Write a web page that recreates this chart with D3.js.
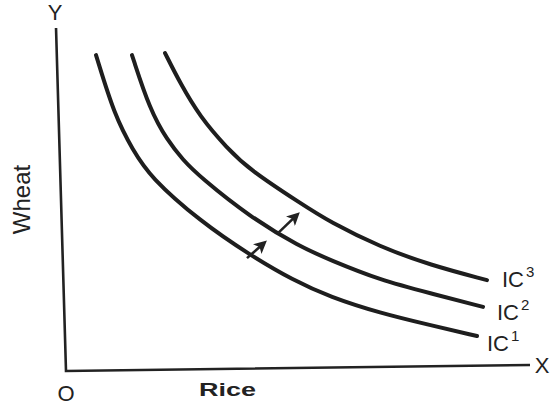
<!DOCTYPE html>
<html>
<head>
<meta charset="utf-8">
<script src="https://cdn.jsdelivr.net/npm/d3@7"></script>
<style>
  body { margin: 0; background: #fff; }
  text { font-family: "Liberation Sans", Arial, sans-serif; fill: #222; }
</style>
</head>
<body>
<svg id="chart" width="551" height="408"></svg>
<script>
// indifference curves (rice on x, wheat on y, 0-100 units)
var ic1 = [[6.47, 92.1], [10.56, 74.1], [14.44, 64.4], [18.10, 56.6], [28.88, 43.7], [39.66, 33.8], [48.92, 26.5], [56.90, 21.6], [67.67, 16.9], [78.45, 13.4], [88.58, 10.2]];
var ic2 = [[14.22, 92.1], [18.10, 76.1], [21.77, 67.4], [25.22, 61.5], [28.88, 56.6], [39.66, 44.9], [50.43, 36.2], [56.90, 32.4], [67.67, 26.5], [78.45, 22.7], [89.87, 18.7]];
var ic3 = [[21.34, 92.7], [24.57, 84.0], [28.88, 74.1], [34.70, 65.0], [39.66, 58.6], [50.43, 49.0], [56.90, 43.4], [67.67, 36.2], [78.45, 30.9], [90.73, 26.5]];
var curveNames = ["1", "2", "3"];

// arrows showing the move to higher curves
var arrows = [
    [[39.01, 32.9], [42.67, 37.3]],
    [[45.69, 40.2], [49.78, 45.5]]
];

var xLabel = "Rice";
var yLabel = "Wheat";

var svg = d3.select("#chart");

var x = d3.scaleLinear().domain([0, 100]).range([66, 530]);
var y = d3.scaleLinear().domain([0, 100]).range([371, 28]);

svg.append("defs").append("marker")
    .attr("id", "head")
    .attr("viewBox", "0 0 10 10")
    .attr("refX", 7)
    .attr("refY", 5)
    .attr("markerWidth", 5)
    .attr("markerHeight", 5)
    .attr("markerUnits", "strokeWidth")
    .attr("orient", "auto")
    .append("path")
    .attr("d", "M0,0 L10,5 L0,10 L2.5,5 Z")
    .style("fill", "#222");

// axes (the scan is a little tilted, so the y axis leans a bit)
var line = d3.line().x(function (d) { return x(d[0]); }).y(function (d) { return y(d[1]); });

svg.append("path")
    .attr("d", line([[-2.15, 100], [0, 0], [100, 1.75]]))
    .style("fill", "none")
    .style("stroke", "#222")
    .style("stroke-width", 2.6);

// curves
var curve = d3.line()
    .x(function (d) { return x(d[0]); })
    .y(function (d) { return y(d[1]); })
    .curve(d3.curveBasis);

var curves = [ic1, ic2, ic3];

svg.selectAll(".ic")
    .data(curves)
    .enter().append("path")
    .attr("class", "ic")
    .attr("d", curve)
    .style("fill", "none")
    .style("stroke", "#1e1e1e")
    .style("stroke-width", 4)
    .style("stroke-linecap", "round");

svg.selectAll(".arrow")
    .data(arrows)
    .enter().append("path")
    .attr("class", "arrow")
    .attr("d", line)
    .style("stroke", "#222")
    .style("stroke-width", 2.6)
    .attr("marker-end", "url(#head)");

// curve labels at the right end of each curve, nudged like the original
var nudgeX = [10, 14, 15];
var nudgeY = [15, 13, 7];

var labels = svg.selectAll(".iclabel")
    .data(curves)
    .enter().append("text")
    .attr("class", "iclabel")
    .attr("x", function (d, i) { return x(d[d.length - 1][0]) + nudgeX[i]; })
    .attr("y", function (d, i) { return y(d[d.length - 1][1]) + nudgeY[i]; })
    .style("font-size", "22px");

labels.append("tspan").text("IC");
labels.append("tspan")
    .attr("dx", 2)
    .attr("dy", -10)
    .style("font-size", "15px")
    .text(function (d, i) { return curveNames[i]; });

// axis letters
svg.append("text").attr("x", 55).attr("y", 20).attr("text-anchor", "middle").style("font-size", "22px").text("Y");
svg.append("text").attr("x", 542).attr("y", 373).attr("text-anchor", "middle").style("font-size", "22px").text("X");
svg.append("text").attr("x", 66).attr("y", 401).attr("text-anchor", "middle").style("font-size", "22px").text("O");

svg.append("text")
    .attr("x", 199)
    .attr("y", 396)
    .attr("textLength", 57)
    .attr("lengthAdjust", "spacingAndGlyphs")
    .style("font-size", "19px")
    .style("font-weight", "bold")
    .text(xLabel);

svg.append("text")
    .attr("transform", "translate(30," + y(50) + ") rotate(-90)")
    .attr("text-anchor", "middle")
    .style("font-size", "24px")
    .text(yLabel);
</script>
</body>
</html>
